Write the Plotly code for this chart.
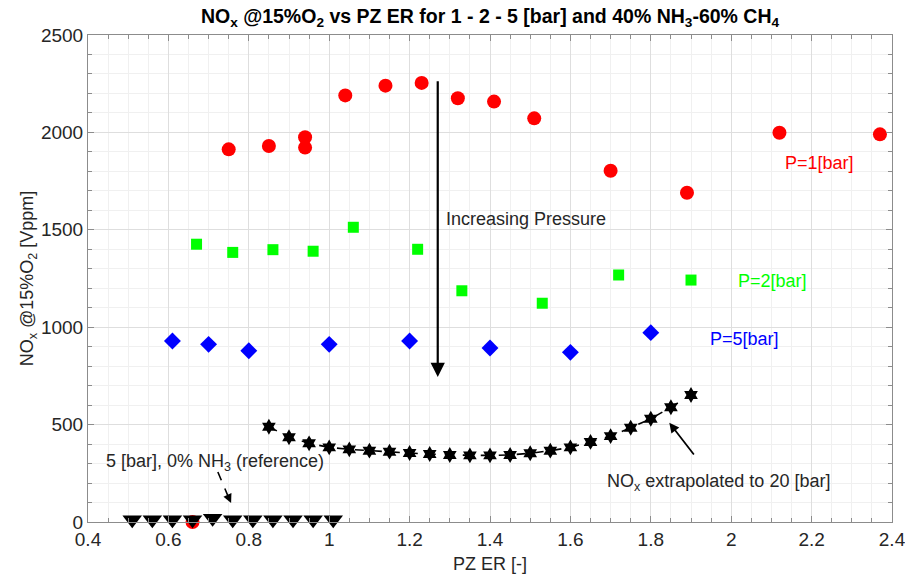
import plotly.graph_objects as go

# PZ equivalence ratio and NOx @15%O2 [Vppm] per pressure level
er_p1 = [0.66, 0.75, 0.85, 0.94, 0.94, 1.04, 1.14, 1.23, 1.32, 1.41, 1.51, 1.70, 1.89, 2.12, 2.37]
nox_p1 = [0, 1913, 1930, 1975, 1922, 2190, 2240, 2254, 2175, 2158, 2072, 1803, 1690, 1998, 1990]

er_p2 = [0.67, 0.76, 0.86, 0.96, 1.06, 1.22, 1.33, 1.53, 1.72, 1.90]
nox_p2 = [1426, 1384, 1398, 1390, 1513, 1400, 1187, 1123, 1268, 1242]

er_p5 = [0.61, 0.70, 0.80, 1.00, 1.20, 1.40, 1.60, 1.80]
nox_p5 = [929, 912, 879, 912, 929, 893, 871, 972]

# extrapolation to 20 bar
er_p20 = [0.85, 0.90, 0.95, 1.00, 1.05, 1.10, 1.15, 1.20, 1.25, 1.30, 1.35,
          1.40, 1.45, 1.50, 1.55, 1.60, 1.65, 1.70, 1.75, 1.80, 1.85, 1.90]
nox_p20 = [489, 435, 404, 383, 373, 366, 361, 354, 349, 344, 342,
           342, 344, 353, 366, 383, 411, 441, 484, 530, 589, 652]

# 5 bar, pure CH4 reference
er_ref = [0.51, 0.56, 0.61, 0.66, 0.71, 0.76, 0.81, 0.86, 0.91, 0.96, 1.01]
nox_ref = [12, 12, 12, 12, 19, 12, 12, 12, 12, 12, 12]

x_ticks = [0.4, 0.6, 0.8, 1.0, 1.2, 1.4, 1.6, 1.8, 2.0, 2.2, 2.4]
x_tick_text = ["0.4", "0.6", "0.8", "1", "1.2", "1.4", "1.6", "1.8", "2", "2.2", "2.4"]
y_ticks = [0, 500, 1000, 1500, 2000, 2500]
y_tick_text = ["0", "500", "1000", "1500", "2000", "2500"]

FONT = "Liberation Sans, Arial, Helvetica, sans-serif"
TXT = "#262626"

fig = go.Figure()

fig.add_trace(go.Scatter(
    x=er_p20, y=nox_p20, mode="lines+markers",
    line=dict(color="black", width=1.6, dash="dash"),
    marker=dict(symbol="hexagram", size=12, color="black"),
    cliponaxis=False, showlegend=False))

fig.add_trace(go.Scatter(
    x=er_p1, y=nox_p1, mode="markers",
    marker=dict(symbol="circle", size=14, color="#ff0000"),
    cliponaxis=False, showlegend=False))

fig.add_trace(go.Scatter(
    x=er_p2, y=nox_p2, mode="markers",
    marker=dict(symbol="square", size=11, color="#00ff00"),
    cliponaxis=False, showlegend=False))

fig.add_trace(go.Scatter(
    x=er_p5, y=nox_p5, mode="markers",
    marker=dict(symbol="diamond", size=13, color="#0000ff"),
    cliponaxis=False, showlegend=False))

fig.add_trace(go.Scatter(
    x=er_ref, y=nox_ref, mode="markers",
    marker=dict(symbol="triangle-down", size=17, color="black"),
    cliponaxis=False, showlegend=False))

# dashed pointer to the reference series
fig.add_trace(go.Scatter(
    x=[0.723, 0.752], y=[257, 115], mode="lines",
    line=dict(color="black", width=1.6, dash="dash"),
    showlegend=False, hoverinfo="skip"))

annotations = [
    # pressure trend arrow
    dict(x=1.27, y=744, ax=1.27, ay=2270, xref="x", yref="y", axref="x", ayref="y",
         text="", showarrow=True, arrowhead=2, arrowsize=1.3, arrowwidth=2.2,
         arrowcolor="black", standoff=0, startstandoff=0),
    dict(x=1.285, y=1554, xref="x", yref="y", text="Increasing Pressure",
         showarrow=False, xanchor="left", yanchor="middle",
         font=dict(family=FONT, size=18, color=TXT)),
    dict(x=2.13, y=1843, xref="x", yref="y", text="P=1[bar]",
         showarrow=False, xanchor="left", yanchor="middle",
         font=dict(family=FONT, size=18, color="#ff0000")),
    dict(x=2.013, y=1237, xref="x", yref="y", text="P=2[bar]",
         showarrow=False, xanchor="left", yanchor="middle",
         font=dict(family=FONT, size=18, color="#00ff00")),
    dict(x=1.943, y=939, xref="x", yref="y", text="P=5[bar]",
         showarrow=False, xanchor="left", yanchor="middle",
         font=dict(family=FONT, size=18, color="#0000ff")),
    dict(x=0.44, y=305, xref="x", yref="y", text="5 [bar], 0% NH<sub>3</sub> (reference)",
         showarrow=False, xanchor="left", yanchor="middle",
         font=dict(family=FONT, size=18, color=TXT)),
    # arrowhead of the dashed pointer
    dict(x=0.756, y=98, ax=0.750, ay=125, xref="x", yref="y", axref="x", ayref="y",
         text="", showarrow=True, arrowhead=2, arrowsize=1.1, arrowwidth=1.6,
         arrowcolor="black", standoff=0, startstandoff=0),
    dict(x=1.685, y=205, xref="x", yref="y", text="NO<sub>x</sub> extrapolated to 20 [bar]",
         showarrow=False, xanchor="left", yanchor="middle",
         font=dict(family=FONT, size=18, color=TXT)),
    dict(x=1.846, y=510, ax=1.910, ay=339, xref="x", yref="y", axref="x", ayref="y",
         text="", showarrow=True, arrowhead=2, arrowsize=1.1, arrowwidth=1.8,
         arrowcolor="black", standoff=0, startstandoff=0),
]

axis_common = dict(
    showline=True, linecolor="#8c8c8c", linewidth=1, mirror="allticks",
    ticks="inside", ticklen=6, tickcolor="#8c8c8c", tickwidth=1,
    showgrid=True, gridcolor="#dedede", gridwidth=1, zeroline=False,
    automargin=False, ticklabeloverflow="allow",
    tickfont=dict(family=FONT, size=19, color=TXT),
)

fig.update_layout(
    width=905, height=578,
    margin=dict(l=88, r=13, t=35, b=56),
    paper_bgcolor="white", plot_bgcolor="white",
    font=dict(family=FONT, color=TXT),
    title=dict(
        text="<b>NO<sub>x</sub> @15%O<sub>2</sub> vs PZ ER for 1 - 2 - 5 [bar] and 40% NH<sub>3</sub>-60% CH<sub>4</sub></b>",
        x=0.5, xanchor="center", xref="paper", y=0.972, yanchor="middle",
        font=dict(family=FONT, size=19.5, color="black")),
    xaxis=dict(
        range=[0.4, 2.4], tickvals=x_ticks, ticktext=x_tick_text,
        minor=dict(dtick=0.05, ticks="inside", ticklen=4, tickcolor="#8c8c8c",
                   showgrid=True, gridcolor="#f0f0f0", gridwidth=1),
        title=dict(text="PZ ER [-]", font=dict(family=FONT, size=18, color=TXT), standoff=8),
        **axis_common),
    yaxis=dict(
        range=[0, 2500], tickvals=y_ticks, ticktext=y_tick_text,
        minor=dict(dtick=100, ticks="inside", ticklen=4, tickcolor="#8c8c8c",
                   showgrid=True, gridcolor="#f0f0f0", gridwidth=1),
        title=dict(text="NO<sub>x</sub> @15%O<sub>2</sub> [Vppm]",
                   font=dict(family=FONT, size=18, color=TXT), standoff=2),
        **axis_common),
    annotations=annotations,
)

fig.write_html("out.html")
